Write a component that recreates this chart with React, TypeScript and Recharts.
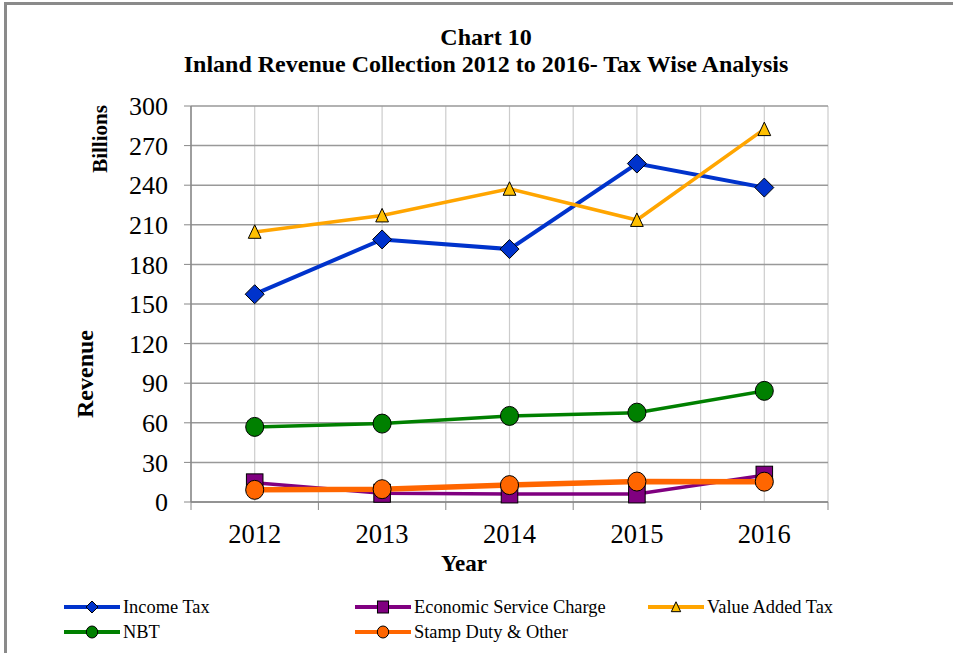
import { LineChart, Line, XAxis, YAxis, CartesianGrid } from "recharts";

const years = ["2012", "2013", "2014", "2015", "2016"];
const incomeTax = [157.4, 198.9, 191.6, 256.4, 238.2];
const economicServiceCharge = [14.5, 6.6, 6.1, 6.1, 20.3];
const valueAddedTax = [204.6, 217.0, 237.2, 213.6, 282.4];
const nbt = [56.9, 59.4, 65.2, 67.7, 84.2];
const stampDuty = [9.2, 9.7, 12.8, 15.5, 15.4];
const yTicks = [0, 30, 60, 90, 120, 150, 180, 210, 240, 270, 300];
// category centres plus the boundaries between them
const xTicks = [-0.5, 0, 0.5, 1, 1.5, 2, 2.5, 3, 3.5, 4, 4.5];

const data = years.map((y, i) => ({
  x: i,
  year: y,
  incomeTax: incomeTax[i],
  esc: economicServiceCharge[i],
  vat: valueAddedTax[i],
  nbt: nbt[i],
  stamp: stampDuty[i],
}));

const FONT = "'Liberation Serif', 'Times New Roman', serif";

type Marker = "diamond" | "square" | "triangle" | "circle";

function drawMarker(kind: Marker, cx: number, cy: number, fill: string, s: number, key?: string) {
  const h = s / 2;
  if (kind === "diamond")
    return (
      <path key={key} d={`M${cx},${cy - h}L${cx + h},${cy}L${cx},${cy + h}L${cx - h},${cy}Z`} fill={fill} stroke="#000" strokeWidth={1} />
    );
  if (kind === "square")
    return <rect key={key} x={cx - h * 0.92} y={cy - h} width={s * 0.92} height={s} fill={fill} stroke="#000" strokeWidth={1} />;
  if (kind === "triangle")
    return (
      <path key={key} d={`M${cx},${cy - h * 0.95}L${cx + h * 0.85},${cy + h * 0.85}L${cx - h * 0.85},${cy + h * 0.85}Z`} fill={fill} stroke="#000" strokeWidth={1} />
    );
  return <ellipse key={key} cx={cx} cy={cy} rx={h * 0.95} ry={h} fill={fill} stroke="#000" strokeWidth={1} />;
}

const dotFor = (kind: Marker, fill: string, s: number) => (p: any) =>
  drawMarker(kind, p.cx, p.cy, fill, s, `${kind}-${p.index}`);

function XTick(props: any) {
  const { x, y, payload } = props;
  const v = payload.value as number;
  if (!Number.isInteger(v)) {
    return <line x1={x} y1={y} x2={x} y2={y + 8} stroke="#888" strokeWidth={1} />;
  }
  return (
    <text x={x} y={y + 41} textAnchor="middle" fontSize={26.5} fontFamily={FONT} fill="#000">
      {years[v]}
    </text>
  );
}

const series = [
  { key: "incomeTax", name: "Income Tax", color: "#0033CC", fill: "#0033CC", marker: "diamond" as Marker, w: 4, s: 19 },
  { key: "esc", name: "Economic Service Charge", color: "#800080", fill: "#800080", marker: "square" as Marker, w: 3.5, s: 18 },
  { key: "vat", name: "Value Added Tax", color: "#FFA500", fill: "#FFC000", marker: "triangle" as Marker, w: 3.5, s: 15 },
  { key: "nbt", name: "NBT", color: "#008000", fill: "#008000", marker: "circle" as Marker, w: 3.5, s: 19 },
  { key: "stamp", name: "Stamp Duty & Other", color: "#FF6600", fill: "#FF6600", marker: "circle" as Marker, w: 5.5, s: 19 },
];

const legendPos = [
  { x: 64, y: 607 },
  { x: 355, y: 607 },
  { x: 648, y: 607 },
  { x: 64, y: 632 },
  { x: 355, y: 632 },
];

export default function App() {
  return (
    <div style={{ position: "absolute", left: 0, top: 0, width: 953, height: 653, background: "#fff", overflow: "hidden" }}>
      <div style={{ position: "absolute", left: 4, top: 2, right: 0, height: 3, background: "#8a8a8a" }} />
      <div style={{ position: "absolute", left: 4, top: 2, width: 3, bottom: 0, background: "#8a8a8a" }} />
      <LineChart
        width={953}
        height={653}
        data={data}
        margin={{ top: 106, right: 125, bottom: 121, left: 131 }}
        style={{ position: "absolute", left: 0, top: 0 }}
      >
        <CartesianGrid horizontal={false} stroke="#cccccc" strokeWidth={1.2} />
        <CartesianGrid vertical={false} stroke="#999999" strokeWidth={1.5} />
        <XAxis
          dataKey="x"
          type="number"
          domain={[-0.5, 4.5]}
          ticks={xTicks}
          interval={0}
          tickLine={false}
          tickSize={0}
          tickMargin={0}
          height={30}
          axisLine={{ stroke: "#888", strokeWidth: 1.5 }}
          tick={<XTick />}
        />
        <YAxis
          domain={[0, 300]}
          ticks={yTicks}
          interval={0}
          width={60}
          tickSize={7}
          tickMargin={16}
          axisLine={{ stroke: "#888", strokeWidth: 1.5 }}
          tickLine={{ stroke: "#888" }}
          tick={{ fontSize: 26, fontFamily: FONT, fill: "#000" }}
        />
        {series.map((s) => (
          <Line
            key={s.key}
            dataKey={s.key}
            name={s.name}
            stroke={s.color}
            strokeWidth={s.w}
            type="linear"
            dot={dotFor(s.marker, s.fill, s.s)}
            activeDot={false}
            isAnimationActive={false}
          />
        ))}
      </LineChart>
      <svg width={953} height={653} style={{ position: "absolute", left: 0, top: 0, pointerEvents: "none" }}>
        <g fontFamily={FONT} fontWeight="bold" fill="#000">
          <text x={486} y={45} textAnchor="middle" fontSize={24}>Chart 10</text>
          <text x={486} y={72} textAnchor="middle" fontSize={24}>
            Inland Revenue Collection 2012 to 2016- Tax Wise Analysis
          </text>
          <text x={464} y={571} textAnchor="middle" fontSize={23}>Year</text>
          <text transform="translate(93,374) rotate(-90)" textAnchor="middle" fontSize={24}>Revenue</text>
          <text transform="translate(107,139) rotate(-90)" textAnchor="middle" fontSize={21}>Billions</text>
        </g>
        {series.map((s, i) => {
          const p = legendPos[i];
          return (
            <g key={s.key}>
              <line x1={p.x} y1={p.y} x2={p.x + 56} y2={p.y} stroke={s.color} strokeWidth={4} />
              {drawMarker(s.marker, p.x + 28, p.y, s.fill, s.marker === "triangle" ? 11 : 12)}
              <text x={p.x + 59} y={p.y + 6} fontSize={18.4} fontFamily={FONT} fill="#000">
                {s.name}
              </text>
            </g>
          );
        })}
      </svg>
    </div>
  );
}
